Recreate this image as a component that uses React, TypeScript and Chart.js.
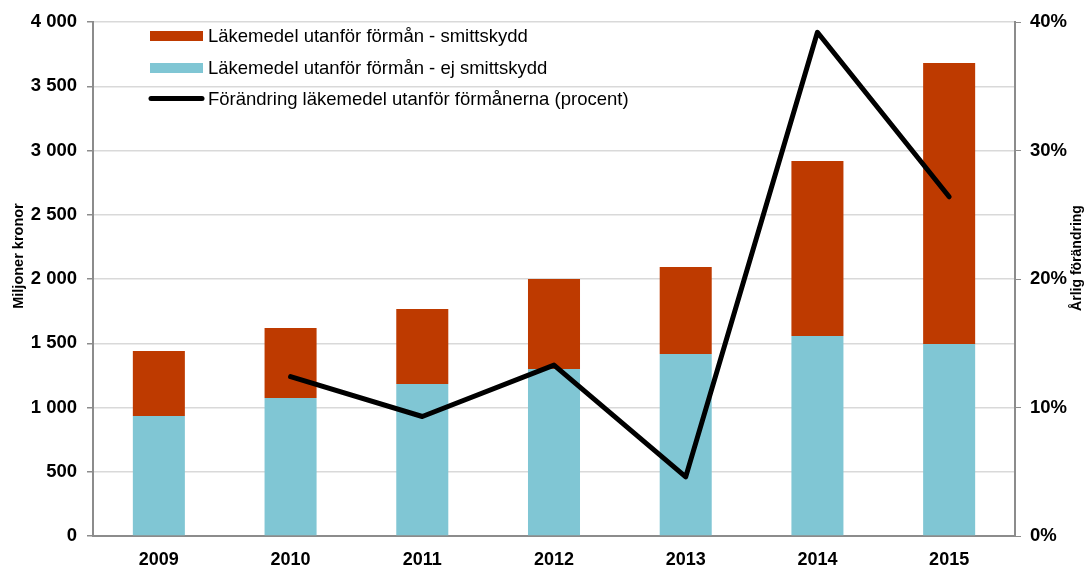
import React, { useEffect, useRef } from "react";
import { Chart, registerables } from "chart.js";

Chart.register(...registerables);

const years = ["2009", "2010", "2011", "2012", "2013", "2014", "2015"];
const ejSmittskydd = [934, 1074, 1183, 1300, 1416, 1556, 1494];
const smittskydd = [506, 545, 584, 700, 677, 1362, 2187];
const forandring = [null, 12.4, 9.3, 13.3, 4.6, 39.2, 26.4];

const legendLabels = [
  "Läkemedel utanför förmån - smittskydd",
  "Läkemedel utanför förmån - ej smittskydd",
  "Förändring läkemedel utanför förmånerna (procent)",
];

const RED = "#BE3A00";
const BLUE = "#80C6D4";
const FONT = "'Liberation Sans', Arial, sans-serif";

const overlayPlugin = {
  id: "overlay",
  afterDraw(chart: any) {
    const ctx = chart.ctx;
    ctx.save();
    // legend
    ctx.fillStyle = RED;
    ctx.fillRect(150, 31, 53, 10);
    ctx.fillStyle = BLUE;
    ctx.fillRect(150, 63, 53, 10);
    ctx.strokeStyle = "#000";
    ctx.lineWidth = 5;
    ctx.lineCap = "round";
    ctx.beginPath();
    ctx.moveTo(151, 98.5);
    ctx.lineTo(202, 98.5);
    ctx.stroke();
    ctx.fillStyle = "#000";
    ctx.font = `18.5px ${FONT}`;
    ctx.textBaseline = "middle";
    ctx.textAlign = "left";
    ctx.fillText(legendLabels[0], 208, 37);
    ctx.fillText(legendLabels[1], 208, 69);
    ctx.fillText(legendLabels[2], 208, 100);
    // axis titles
    ctx.font = `bold 14.5px ${FONT}`;
    ctx.textAlign = "center";
    ctx.translate(19, 256);
    ctx.rotate(-Math.PI / 2);
    ctx.fillText("Miljoner kronor", 0, 0);
    ctx.restore();
    ctx.save();
    ctx.fillStyle = "#000";
    ctx.font = `bold 14px ${FONT}`;
    ctx.textAlign = "center";
    ctx.textBaseline = "middle";
    ctx.translate(1077, 258);
    ctx.rotate(-Math.PI / 2);
    ctx.fillText("Årlig förändring", 0, 0);
    ctx.restore();
  },
};

export default function App() {
  const ref = useRef<HTMLCanvasElement>(null);
  useEffect(() => {
    document.body.style.margin = "0";
    const chart = new Chart(ref.current!, {
      type: "bar",
      data: {
        labels: years,
        datasets: [
          {
            type: "line",
            label: legendLabels[2],
            data: forandring,
            yAxisID: "y1",
            borderColor: "#000",
            borderWidth: 5,
            pointRadius: 0,
            borderCapStyle: "round",
            borderJoinStyle: "round",
            order: 0,
            spanGaps: false,
          } as any,
          {
            label: legendLabels[1],
            data: ejSmittskydd,
            backgroundColor: BLUE,
            yAxisID: "y",
            order: 1,
            barPercentage: 0.395,
            categoryPercentage: 1,
          },
          {
            label: legendLabels[0],
            data: smittskydd,
            backgroundColor: RED,
            yAxisID: "y",
            order: 1,
            barPercentage: 0.395,
            categoryPercentage: 1,
          },
        ],
      },
      options: {
        animation: false,
        responsive: false,
        maintainAspectRatio: false,
        layout: { padding: { top: 22, left: 0, right: 0, bottom: 0 } },
        plugins: { legend: { display: false }, tooltip: { enabled: false } },
        scales: {
          x: {
            stacked: true,
            grid: { display: false },
            border: { color: "#8C8C8C", width: 2 },
            ticks: {
              color: "#000",
              font: { family: FONT, size: 18, weight: "bold" },
              padding: 5,
            },
            afterFit(scale: any) {
              scale.height = 31;
            },
          },
          y: {
            stacked: true,
            position: "left",
            min: 0,
            max: 4000,
            ticks: {
              stepSize: 500,
              color: "#000",
              font: { family: FONT, size: 18.5, weight: "bold" },
              padding: 10,
              callback: (v: any) => String(v).replace(/\B(?=(\d{3})+(?!\d))/g, " "),
            },
            grid: { color: "#D9D9D9", lineWidth: 1.5, tickLength: 6, tickColor: "#8C8C8C" },
            border: { color: "#8C8C8C", width: 2 },
            afterFit(scale: any) {
              scale.width = 93;
            },
          },
          y1: {
            position: "right",
            min: 0,
            max: 40,
            ticks: {
              stepSize: 10,
              color: "#000",
              font: { family: FONT, size: 18.5, weight: "bold" },
              padding: 9,
              callback: (v: any) => v + "%",
            },
            grid: { drawOnChartArea: false, tickLength: 6, color: "#8C8C8C" },
            border: { color: "#8C8C8C", width: 2 },
            afterFit(scale: any) {
              scale.width = 74;
            },
          },
        },
      },
      plugins: [overlayPlugin],
    });
    return () => chart.destroy();
  }, []);
  return (
    <div style={{ position: "absolute", left: 0, top: 0, width: 1089, height: 567 }}>
      <canvas ref={ref} width={1089} height={567} style={{ width: 1089, height: 567 }} />
    </div>
  );
}
